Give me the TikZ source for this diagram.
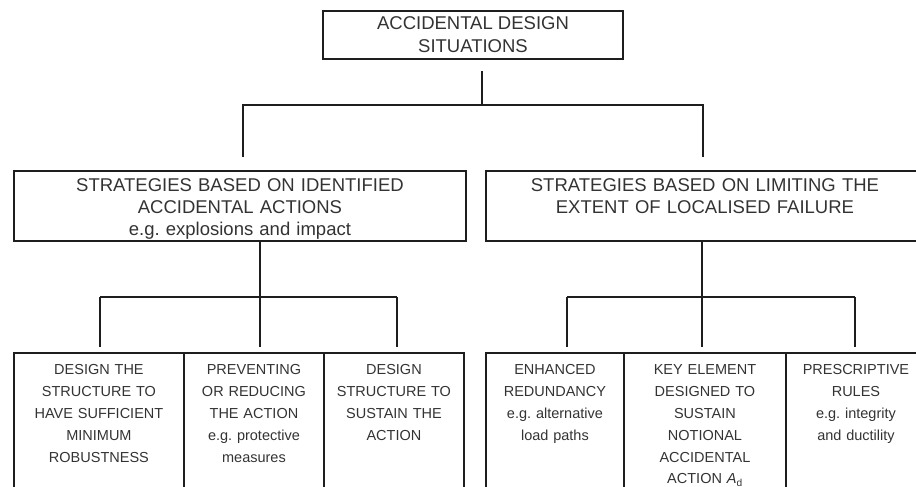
\documentclass[tikz,border=0pt]{standalone}
\usepackage{fontspec}
\setmainfont{Liberation Sans}
\usetikzlibrary{positioning}
\frenchspacing

\definecolor{inkline}{HTML}{1E1E1E}
\definecolor{inktext}{HTML}{333333}

\tikzset{
  box/.style={draw=inkline, line width=1.9pt, text=inktext, anchor=north west,
    inner xsep=0pt, align=center},
  rootbox/.style={box, anchor=center, minimum width=300pt, minimum height=48pt,
    font=\fontsize{18.5}{23}\selectfont},
  stratbox/.style={box, font=\fontsize{18.5}{22}\selectfont,
    text height=13.3pt, text depth=41.9pt, inner ysep=7.4pt},
  leafbox/.style={box, font=\fontsize{14.5}{21.8}\selectfont,
    text height=10.5pt, text depth=150pt, inner ysep=11.5pt},
  link/.style={draw=inkline, line width=1.9pt}
}

\begin{document}
\begin{tikzpicture}[x=1pt, y=-1pt]
  \useasboundingbox (0,0) rectangle (916,487);
  \clip (0,0) rectangle (916,487);

  % top
  \node[rootbox] (root) at (473,35) {ACCIDENTAL DESIGN\\SITUATIONS};

  % strategies
  \node[stratbox, text width=452pt] (ident) at (13,170)
    {STRATEGIES BASED ON IDENTIFIED\\ACCIDENTAL ACTIONS\\e.g. explosions and impact};
  \node[stratbox, text width=438pt] (limit) at (485,170)
    {STRATEGIES BASED ON LIMITING THE\\EXTENT OF LOCALISED FAILURE};

  % measures
  \node[leafbox, text width=170pt] (robust) at (13,352)
    {DESIGN THE\\STRUCTURE TO\\HAVE SUFFICIENT\\MINIMUM\\ROBUSTNESS};
  \node[leafbox, text width=140pt] (prevent) at (183,352)
    {PREVENTING\\OR REDUCING\\THE ACTION\\e.g. protective\\measures};
  \node[leafbox, text width=140pt] (sustain) at (323,352)
    {DESIGN\\STRUCTURE TO\\SUSTAIN THE\\ACTION};
  \node[leafbox, text width=138pt] (redund) at (485,352)
    {ENHANCED\\REDUNDANCY\\e.g. alternative\\load paths};
  \node[leafbox, text width=162pt] (keyel) at (623,352)
    {KEY ELEMENT\\DESIGNED TO\\SUSTAIN\\NOTIONAL\\ACCIDENTAL\\ACTION \textit{A}\textsubscript{d}};
  \node[leafbox, text width=140pt] (prescr) at (785,352)
    {PRESCRIPTIVE\\RULES\\e.g. integrity\\and ductility};

  % upper tree
  \coordinate (t0) at (482,105);
  \coordinate (s1) at (243,105);
  \coordinate (s2) at (703,105);
  \draw[link, shorten <=11pt] (t0 |- root.south) -- (t0);
  \draw[link, shorten <=13pt, shorten >=13pt]
    (s1 |- ident.north) |- (t0) -| (s2 |- limit.north);

  % lower trees
  \coordinate (l0) at (260,297);
  \coordinate (r0) at (702,297);
  \draw[link] (l0 |- ident.south) -- (l0);
  \draw[link] (r0 |- limit.south) -- (r0);
  \foreach \n/\x in {robust/100, prevent/260, sustain/397,
                     redund/567, keyel/702, prescr/855} {
    \coordinate (d\n) at (\x,297);
    \draw[link, shorten >=5pt] (d\n) -- (d\n |- \n.north);
  }
  \draw[link] (drobust) -- (dsustain);
  \draw[link] (dredund) -- (dprescr);
\end{tikzpicture}
\end{document}
